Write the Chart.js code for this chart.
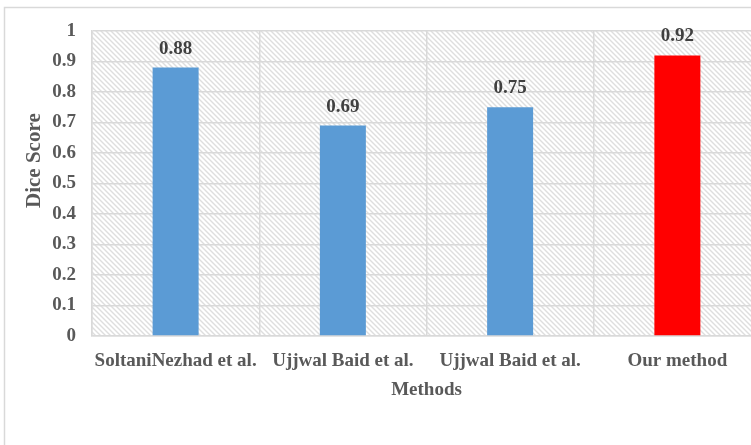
<!DOCTYPE html>
<html>
<head>
<meta charset="utf-8">
<script src="https://cdn.jsdelivr.net/npm/chart.js@4.4.1/dist/chart.umd.min.js"></script>
<style>
  html, body { margin: 0; padding: 0; background: #ffffff; overflow: hidden; }
  #wrap { position: relative; width: 751px; height: 445px; overflow: hidden; }
  canvas { display: block; }
</style>
</head>
<body>
<div id="wrap"><canvas id="chart" width="770" height="445"></canvas></div>
<script>
// Methods compared and their Dice scores
const methods = ['SoltaniNezhad et al.', 'Ujjwal Baid et al.', 'Ujjwal Baid et al.', 'Our method'];
const diceScores = [0.88, 0.69, 0.75, 0.92];
const barColors = ['#5b9bd5', '#5b9bd5', '#5b9bd5', '#ff0000'];
const yTickLabels = ['0', '0.1', '0.2', '0.3', '0.4', '0.5', '0.6', '0.7', '0.8', '0.9', '1'];
const yAxisTitle = 'Dice Score';

const FONT = '"Liberation Serif", "Times New Roman", serif';
const GRID = '#d9d9d9';

// Light diagonal hatch used as the plot background
function makeHatch(ctx) {
  const size = 5;
  const tile = document.createElement('canvas');
  tile.width = size; tile.height = size;
  const t = tile.getContext('2d');
  t.fillStyle = '#ffffff';
  t.fillRect(0, 0, size, size);
  t.strokeStyle = '#dedede';
  t.lineWidth = 1.4;
  t.beginPath();
  t.moveTo(-1, -1); t.lineTo(size + 1, size + 1);
  t.moveTo(-1, size - 1); t.lineTo(1, size + 1);
  t.moveTo(size - 1, -1); t.lineTo(size + 1, 1);
  t.stroke();
  return ctx.createPattern(tile, 'repeat');
}

const backdrop = {
  id: 'backdrop',
  beforeDraw(chart) {
    const { ctx, chartArea: a } = chart;
    ctx.save();
    ctx.fillStyle = '#ffffff';
    ctx.fillRect(0, 0, chart.width, chart.height);
    // outer frame
    ctx.strokeStyle = GRID;
    ctx.lineWidth = 1.5;
    ctx.beginPath();
    ctx.moveTo(4.5, chart.height + 2);
    ctx.lineTo(4.5, 7.5);
    ctx.lineTo(chart.width + 2, 7.5);
    ctx.stroke();
    // hatched plot area
    ctx.fillStyle = makeHatch(ctx);
    ctx.fillRect(a.left, a.top, a.right - a.left, a.bottom - a.top);
    ctx.restore();
  }
};

// Vertical axis title, sitting a little above the middle of the axis
const axisTitle = {
  id: 'axisTitle',
  afterDraw(chart) {
    const { ctx, chartArea: a } = chart;
    ctx.save();
    ctx.translate(40, a.top + (a.bottom - a.top) * 0.425);
    ctx.rotate(-Math.PI / 2);
    ctx.font = 'bold 21px ' + FONT;
    ctx.fillStyle = '#595959';
    ctx.textAlign = 'center';
    ctx.textBaseline = 'alphabetic';
    ctx.fillText(yAxisTitle, 0, 0);
    ctx.restore();
  }
};

// Value printed above each bar
const valueLabels = {
  id: 'valueLabels',
  afterDatasetsDraw(chart) {
    const { ctx } = chart;
    const meta = chart.getDatasetMeta(0);
    ctx.save();
    ctx.font = 'bold 19px ' + FONT;
    ctx.fillStyle = '#404040';
    ctx.textAlign = 'center';
    ctx.textBaseline = 'alphabetic';
    meta.data.forEach((bar, i) => {
      ctx.fillText(diceScores[i].toFixed(2), bar.x, bar.y - 14);
    });
    ctx.restore();
  }
};

new Chart(document.getElementById('chart'), {
  type: 'bar',
  data: {
    labels: methods,
    datasets: [{
      data: diceScores,
      backgroundColor: barColors,
      borderWidth: 0,
      categoryPercentage: 1,
      barPercentage: 0.275
    }]
  },
  options: {
    responsive: false,
    animation: false,
    devicePixelRatio: 1,
    layout: { padding: { left: 0, top: 31, right: 9, bottom: 44 } },
    plugins: {
      legend: { display: false },
      tooltip: { enabled: false }
    },
    scales: {
      x: {
        afterFit(scale) { scale.height = 65; },
        grid: { color: GRID, lineWidth: 1.5, drawTicks: false, offset: true },
        border: { color: GRID, width: 1.5 },
        ticks: {
          color: '#595959',
          font: { family: FONT, size: 19, weight: 'bold' },
          padding: 14,
          maxRotation: 0,
          autoSkip: false
        },
        title: {
          display: true,
          text: 'Methods',
          color: '#595959',
          font: { family: FONT, size: 19, weight: 'bold' },
          padding: { top: 0, bottom: 0 }
        }
      },
      y: {
        min: 0,
        max: 1,
        afterFit(scale) { scale.width = 92; },
        grid: { color: GRID, lineWidth: 1.5, drawTicks: false },
        border: { color: GRID, width: 1.5 },
        ticks: {
          stepSize: 0.1,
          color: '#595959',
          font: { family: FONT, size: 19, weight: 'bold' },
          padding: 16,
          callback: (v, i) => yTickLabels[i]
        },
        title: { display: false }
      }
    }
  },
  plugins: [backdrop, axisTitle, valueLabels]
});
</script>
</body>
</html>
